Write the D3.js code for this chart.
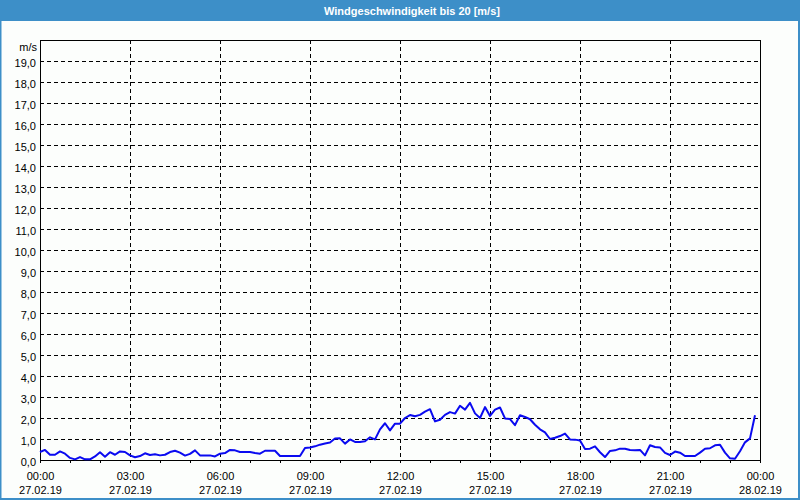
<!DOCTYPE html>
<html>
<head>
<meta charset="utf-8">
<script src="https://cdn.jsdelivr.net/npm/d3@7/dist/d3.min.js"></script>
<style>
  html, body { margin: 0; padding: 0; background: #fcfefc; }
  svg { display: block; }
  text { font-family: "Liberation Sans", Arial, sans-serif; }
</style>
</head>
<body>
<svg id="chart" width="800" height="500"></svg>
<script>
// ---- data ----
const title = "Windgeschwindigkeit bis 20 [m/s]";
const unitLabel = "m/s";
const startTime = "2019-02-27T00:00:00";
const endTime = "2019-02-28T00:00:00";
const stepMinutes = 10;
// wind speed [m/s], one value every 10 minutes from 00:00
const windSpeed = [
  0.38, 0.48, 0.25, 0.25, 0.41, 0.30, 0.10, 0.03, 0.14, 0.03,
  0.03, 0.17, 0.37, 0.16, 0.37, 0.25, 0.41, 0.38, 0.22, 0.13,
  0.19, 0.32, 0.24, 0.27, 0.22, 0.25, 0.38, 0.44, 0.35, 0.21,
  0.29, 0.46, 0.22, 0.22, 0.22, 0.17, 0.30, 0.33, 0.48, 0.46,
  0.38, 0.38, 0.38, 0.33, 0.30, 0.44, 0.44, 0.44, 0.19, 0.19,
  0.19, 0.19, 0.19, 0.57, 0.60, 0.65, 0.73, 0.79, 0.83, 1.02,
  1.03, 0.78, 0.98, 0.86, 0.86, 0.89, 1.08, 0.98, 1.46, 1.75,
  1.41, 1.73, 1.73, 2.00, 2.14, 2.08, 2.15, 2.30, 2.42, 1.84,
  1.92, 2.15, 2.28, 2.21, 2.58, 2.40, 2.72, 2.22, 2.00, 2.52,
  2.10, 2.40, 2.50, 1.98, 1.95, 1.66, 2.13, 2.05, 1.94, 1.68,
  1.46, 1.32, 1.00, 1.06, 1.14, 1.26, 0.98, 0.97, 0.93, 0.52,
  0.54, 0.65, 0.37, 0.14, 0.43, 0.46, 0.54, 0.54, 0.48, 0.47,
  0.48, 0.22, 0.70, 0.62, 0.60, 0.34, 0.24, 0.40, 0.35, 0.19,
  0.19, 0.19, 0.35, 0.54, 0.56, 0.70, 0.73, 0.35, 0.08, 0.06,
  0.42, 0.84, 1.03, 2.13
];
const yTicks = [0,1,2,3,4,5,6,7,8,9,10,11,12,13,14,15,16,17,18,19];
const xTickLabels = [
  ["00:00","27.02.19"], ["03:00","27.02.19"], ["06:00","27.02.19"],
  ["09:00","27.02.19"], ["12:00","27.02.19"], ["15:00","27.02.19"],
  ["18:00","27.02.19"], ["21:00","27.02.19"], ["00:00","28.02.19"]
];

// ---- layout ----
const W = 800, H = 500;
const plot = { left: 40, right: 760, top: 40, bottom: 460 };
const blue = "#3d8fc8";

const svg = d3.select("#chart");
svg.append("rect").attr("x",0).attr("y",0).attr("width",W).attr("height",H).attr("fill","#fcfefc");

// title bar
svg.append("rect").attr("x",0).attr("y",0).attr("width",W).attr("height",21).attr("fill",blue);
svg.append("text").attr("x",412).attr("y",14.5).attr("text-anchor","middle")
  .attr("fill","#ffffff").attr("font-weight","bold").attr("font-size","11px").text(title);

// window border
svg.append("rect").attr("x",0).attr("y",20).attr("width",1.5).attr("height",H-20).attr("fill",blue);
svg.append("rect").attr("x",W-2).attr("y",20).attr("width",2).attr("height",H-20).attr("fill",blue);
svg.append("rect").attr("x",0).attr("y",H-2).attr("width",W).attr("height",2).attr("fill",blue);

const parse = d3.isoParse;
const t0 = parse(startTime), t1 = parse(endTime);
const x = d3.scaleTime().domain([t0, t1]).range([plot.left, plot.right]);
const y = d3.scaleLinear().domain([0, 20]).range([plot.bottom, plot.top]);

const data = windSpeed.map((v, i) => ({ t: new Date(t0.getTime() + i * stepMinutes * 60000), v }));

const g = svg.append("g");

// horizontal grid
g.selectAll("line.hg").data(yTicks.filter(d => d > 0)).join("line")
  .attr("x1", plot.left).attr("x2", plot.right)
  .attr("y1", d => Math.round(y(d)) + 0.5).attr("y2", d => Math.round(y(d)) + 0.5)
  .attr("stroke", "#000").attr("stroke-width", 1).attr("stroke-dasharray", "4,3");

// vertical grid (every 3 hours)
const majorTimes = d3.timeHour.every(3).range(t0, d3.timeHour.offset(t1, 1));
g.selectAll("line.vg").data(majorTimes.slice(1, -1)).join("line")
  .attr("x1", d => Math.round(x(d)) + 0.5).attr("x2", d => Math.round(x(d)) + 0.5)
  .attr("y1", plot.top).attr("y2", plot.bottom + 2)
  .attr("stroke", "#000").attr("stroke-width", 1).attr("stroke-dasharray", "4,3");

// hourly minor ticks
const hourTimes = d3.timeHour.every(1).range(t0, d3.timeHour.offset(t1, 1));
g.selectAll("line.mt").data(hourTimes).join("line")
  .attr("x1", d => Math.round(x(d)) + 0.5).attr("x2", d => Math.round(x(d)) + 0.5)
  .attr("y1", plot.bottom).attr("y2", plot.bottom + 3)
  .attr("stroke", "#000").attr("stroke-width", 1);

// frame
g.append("rect").attr("x", plot.left + 0.5).attr("y", plot.top + 0.5)
  .attr("width", plot.right - plot.left).attr("height", plot.bottom - plot.top)
  .attr("fill", "none").attr("stroke", "#000").attr("stroke-width", 1);

// y labels
const fmt = d => d3.format(".1f")(d).replace(".", ",");
g.selectAll("text.yl").data(yTicks).join("text")
  .attr("x", 36).attr("y", d => y(d) + 5.5).attr("text-anchor", "end")
  .attr("font-size", "11px").attr("fill", "#000").text(fmt);
g.append("text").attr("x", 37).attr("y", 51).attr("text-anchor", "end")
  .attr("font-size", "11px").attr("fill", "#000").text(unitLabel);

// x labels
g.selectAll("text.xl1").data(majorTimes.slice(0, xTickLabels.length)).join("text")
  .attr("x", d => x(d) + 0.5).attr("y", 479.5).attr("text-anchor", "middle")
  .attr("font-size", "11px").attr("fill", "#000").text((d, i) => xTickLabels[i][0]);
g.selectAll("text.xl2").data(majorTimes.slice(0, xTickLabels.length)).join("text")
  .attr("x", d => x(d) + 0.5).attr("y", 494).attr("text-anchor", "middle")
  .attr("font-size", "11px").attr("fill", "#000").text((d, i) => xTickLabels[i][1]);

// line
const line = d3.line().x(d => x(d.t)).y(d => y(d.v));
g.append("path").datum(data).attr("d", line)
  .attr("fill", "none").attr("stroke", "#0a0af0").attr("stroke-width", 2)
  .attr("stroke-linejoin", "round");
</script>
</body>
</html>
